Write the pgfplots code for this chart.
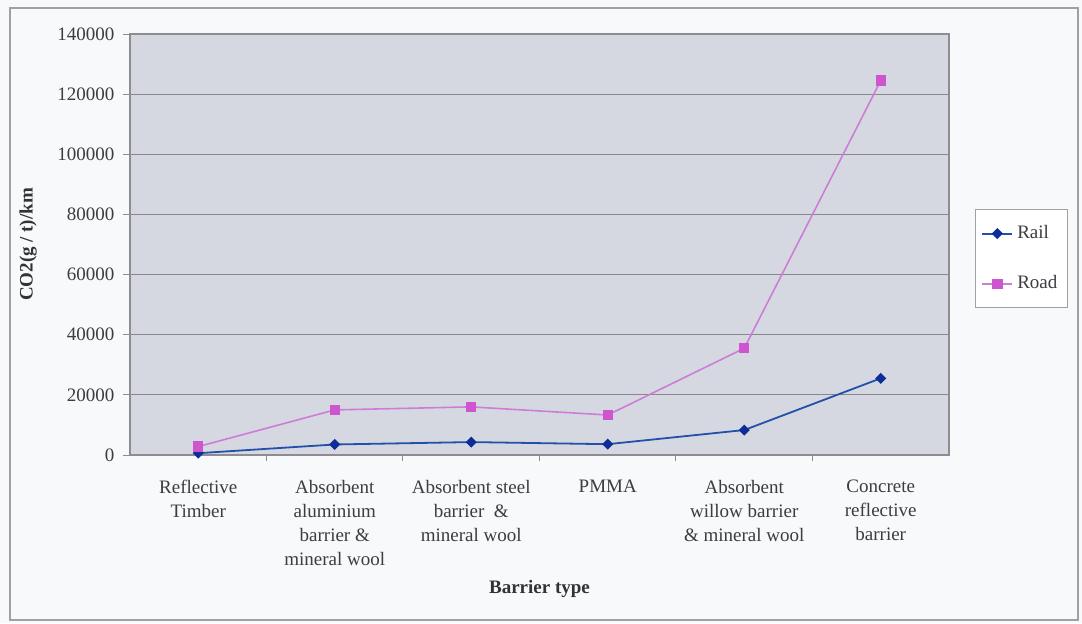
\documentclass[border=0pt]{standalone}
\usepackage{fontspec}
\setmainfont{Liberation Serif}
\usepackage{pgfplots}
\pgfplotsset{compat=1.18}
\definecolor{pagebg}{RGB}{248,249,251}
\definecolor{chartborder}{RGB}{160,160,165}
\definecolor{plotbg}{RGB}{214,216,225}
\definecolor{gridgray}{RGB}{135,135,140}
\definecolor{axisgray}{RGB}{140,140,145}
\definecolor{labelgray}{RGB}{60,60,65}
\definecolor{railline}{RGB}{35,80,170}
\definecolor{railmark}{RGB}{15,45,150}
\definecolor{roadline}{RGB}{205,125,215}
\definecolor{roadmark}{RGB}{205,85,205}
\begin{document}
\begin{tikzpicture}
\path[use as bounding box] (-65pt,-84pt) rectangle (476pt,227.5pt);
\fill[pagebg] (-65pt,-84pt) rectangle (476pt,227.5pt);
\draw[chartborder, line width=0.6pt] (-60pt,-82.5pt) rectangle (474pt,223.5pt);
\begin{axis}[
  at={(0pt,0pt)}, anchor=south west,
  scale only axis, width=409.5pt, height=210.5pt,
  xmin=-0.5, xmax=5.5, ymin=0, ymax=140000,
  ytick={0,20000,40000,60000,80000,100000,120000,140000},
  yticklabels={0,20000,40000,60000,80000,100000,120000,140000},
  xtick={0,1,2,3,4,5},
  xticklabels={{Reflective\\Timber},{Absorbent\\aluminium\\barrier \&\\mineral wool},{Absorbent steel\\barrier \ \&\\mineral wool},{PMMA},{Absorbent\\willow barrier\\\& mineral wool},{Concrete\\reflective\\barrier}},
  scaled y ticks=false,
  xtick pos=left, ytick pos=left,
  yticklabel style={xshift=-0.8pt},
  tick align=outside,
  major tick length=3.5pt,
  minor tick length=3pt,
  minor x tick num=1,
  xtick style={draw=axisgray, line width=0.5pt},
  every major x tick/.append style={draw=none},
  ytick style={draw=axisgray, line width=0.5pt},
  ymajorgrids,
  major grid style={gridgray, line width=0.5pt},
  axis line style={draw=axisgray, line width=0.6pt},
  axis background/.style={fill=plotbg},
  tick label style={font=\fontsize{9.5}{12}\selectfont, text=labelgray},
  xticklabel style={align=center, anchor=north, yshift=-5.5pt},
  ylabel={\textbf{CO2(g / t)/km}},
  ylabel style={at={(axis description cs:-0.1245,0.5)}, anchor=center, font=\fontsize{9.5}{12}\selectfont, text=black!80},
  xlabel={\textbf{Barrier type}},
  xlabel style={at={(axis description cs:0.5,-0.318)}, anchor=center, font=\fontsize{9.5}{12}\selectfont, text=black!80},
  legend style={at={(axis description cs:1.0317,0.5843)}, anchor=north west,
    draw=chartborder, fill=white, line width=0.5pt,
    font=\fontsize{9.5}{12}\selectfont, text=labelgray,
    inner xsep=3pt, inner ysep=6pt, row sep=13pt},
  legend cell align=left,
  legend image code/.code={\draw[mark repeat=2,mark phase=2,#1] plot coordinates {(0pt,0pt)(7.5pt,0pt)(15pt,0pt)};},
]
\addplot[color=railline, line width=0.9pt, mark=square*, mark size=1.5pt, mark options={fill=railmark, draw=railmark, solid, rotate=45}]
  coordinates {(0,600) (1,3500) (2,4300) (3,3600) (4,8300) (5,25500)};
\addlegendentry{Rail}
\addplot[color=roadline, line width=0.8pt, mark=square*, mark size=2.2pt, mark options={fill=roadmark, draw=roadmark, solid}]
  coordinates {(0,2800) (1,15000) (2,16000) (3,13300) (4,35500) (5,124500)};
\addlegendentry{Road}
\end{axis}
\end{tikzpicture}
\end{document}
